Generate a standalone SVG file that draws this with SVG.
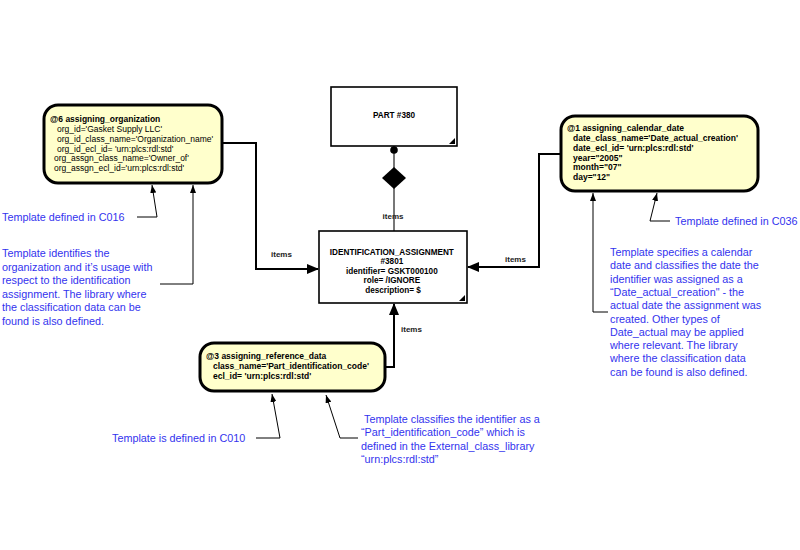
<svg xmlns="http://www.w3.org/2000/svg" width="800" height="550" viewBox="0 0 800 550">
<style>
.node{fill:#ffffcc;stroke:#000;stroke-width:3}
.box{fill:#fff;stroke:#000;stroke-width:1.6}
.nt{font-family:"Liberation Sans",Arial,sans-serif;font-size:8.5px;fill:#000}
.it{font-size:8.2px}
.b{font-weight:bold}
.ann{font-family:"Liberation Sans",Arial,sans-serif;font-size:10.8px;fill:#3333ee}
.lbl{font-family:"Liberation Sans",Arial,sans-serif;font-size:8px;font-weight:bold;fill:#222}
.con{fill:none;stroke:#000;stroke-width:2}
.thin{fill:none;stroke:#000;stroke-width:1}
</style>
<defs>
<marker id="ah" markerWidth="12" markerHeight="10" refX="11" refY="5" orient="auto" markerUnits="userSpaceOnUse">
<path d="M0,0 L12,5 L0,10 Z" fill="#000"/>
</marker>
<marker id="sa" markerWidth="8" markerHeight="6" refX="8" refY="3" orient="auto" markerUnits="userSpaceOnUse">
<path d="M0,0 L8,3 L0,6 Z" fill="#000"/>
</marker>
</defs>
<rect width="800" height="550" fill="#fff"/>

<g id="connectors">
<line x1="394" y1="146" x2="394" y2="231" stroke="#777" stroke-width="2"/>
<circle cx="394" cy="150" r="3.8" fill="#000"/>
<path d="M394,167 L406,178 L394,189 L382,178 Z" fill="#000"/>
<text class="lbl" x="393" y="219" text-anchor="middle">items</text>
<polyline class="con" points="222,143 256,143 256,269 318,269" marker-end="url(#ah)"/>
<text class="lbl" x="271" y="257">items</text>
<polyline class="con" points="561,154 539,154 539,267 468,267" marker-end="url(#ah)"/>
<text class="lbl" x="505" y="262">items</text>
<polyline class="con" points="385,367 394,367 394,304" marker-end="url(#ah)"/>
<text class="lbl" x="401" y="332">items</text>
</g>

<g id="part380">
<rect class="box" x="331" y="87" width="126" height="59"/>
<path d="M455,138 L455,144 L449,144 Z" fill="#000"/>
<text class="nt it b" x="394" y="118" text-anchor="middle">PART #380</text>
</g>

<g id="identification_assignment">
<rect class="box" x="319" y="231" width="148" height="72"/>
<path d="M465,295 L465,301 L459,301 Z" fill="#000"/>
<text class="nt it b" text-anchor="middle" x="393">
<tspan x="393" y="254.5">IDENTIFICATION_ASSIGNMENT</tspan>
<tspan x="393" y="264">#3801</tspan>
<tspan x="393" y="273.5">identifier= GSKT000100</tspan>
<tspan x="393" y="283">role= /IGNORE</tspan>
<tspan x="393" y="293">description= $</tspan>
</text>
</g>

<g id="assigning_organization">
<rect class="node" x="44" y="105" width="178" height="78" rx="14"/>
<text class="nt b" x="50" y="122">@6 assigning_organization</text>
<text class="nt" x="57" y="132">org_id='Gasket Supply LLC'</text>
<text class="nt" x="57" y="142">org_id_class_name='Organization_name'</text>
<text class="nt" x="57" y="151.5">org_id_ecl_id= 'urn:plcs:rdl:std'</text>
<text class="nt" x="54" y="161">org_assgn_class_name='Owner_of'</text>
<text class="nt" x="54" y="170.5">org_assgn_ecl_id='urn:plcs:rdl:std'</text>
</g>

<g id="assigning_calendar_date">
<rect class="node" x="561" y="116" width="197" height="75" rx="14"/>
<text class="nt b" x="567" y="131">@1 assigning_calendar_date</text>
<text class="nt b" x="573" y="141">date_class_name='Date_actual_creation'</text>
<text class="nt b" x="573" y="150.5">date_ecl_id= 'urn:plcs:rdl:std'</text>
<text class="nt b" x="573" y="160.5">year="2005"</text>
<text class="nt b" x="573" y="170">month="07"</text>
<text class="nt b" x="573" y="180">day="12"</text>
</g>

<g id="assigning_reference_data">
<rect class="node" x="200" y="343" width="185" height="48" rx="14"/>
<text class="nt b" x="206" y="359">@3 assigning_reference_data</text>
<text class="nt b" x="213" y="369">class_name='Part_identification_code'</text>
<text class="nt b" x="213" y="379">ecl_id= 'urn:plcs:rdl:std'</text>
</g>

<g id="annotations">
<polyline class="thin" points="137,217 157,217 152,185" marker-end="url(#sa)"/>
<text class="ann" x="2" y="221">Template defined in C016</text>
<polyline class="thin" points="160,284 193,284 193,185" marker-end="url(#sa)"/>
<text class="ann">
<tspan x="2" y="257">Template identifies the</tspan>
<tspan x="2" y="270.5">organization and it’s usage with</tspan>
<tspan x="2" y="284">respect to the identification</tspan>
<tspan x="2" y="297.5">assignment. The library where</tspan>
<tspan x="2" y="311">the classification data can be</tspan>
<tspan x="2" y="324.5">found is also defined.</tspan>
</text>

<polyline class="thin" points="608,312 593,312 593,193" marker-end="url(#sa)"/>
<text class="ann">
<tspan x="610" y="256">Template specifies a calendar</tspan>
<tspan x="610" y="269.3">date and classifies the date the</tspan>
<tspan x="610" y="282.6">identifier was assigned as a</tspan>
<tspan x="610" y="295.9">“Date_actual_creation" - the</tspan>
<tspan x="610" y="309.2">actual date the assignment was</tspan>
<tspan x="610" y="322.5">created. Other types of</tspan>
<tspan x="610" y="335.8">Date_actual may be applied</tspan>
<tspan x="610" y="349.1">where relevant. The library</tspan>
<tspan x="610" y="362.4">where the classification data</tspan>
<tspan x="610" y="375.7">can be found is also defined.</tspan>
</text>
<polyline class="thin" points="670,221 650,221 657,193" marker-end="url(#sa)"/>
<text class="ann" x="675" y="225">Template defined in C036</text>

<polyline class="thin" points="256,438 280,438 272,394" marker-end="url(#sa)"/>
<text class="ann" x="112" y="442">Template is defined in C010</text>
<polyline class="thin" points="358,438 340,438 326,395" marker-end="url(#sa)"/>
<text class="ann">
<tspan x="364" y="423">Template classifies the identifier as a</tspan>
<tspan x="361" y="436.3">“Part_identification_code” which is</tspan>
<tspan x="361" y="449.6">defined in the External_class_library</tspan>
<tspan x="361" y="462.9">“urn:plcs:rdl:std”</tspan>
</text>
</g>
</svg>
